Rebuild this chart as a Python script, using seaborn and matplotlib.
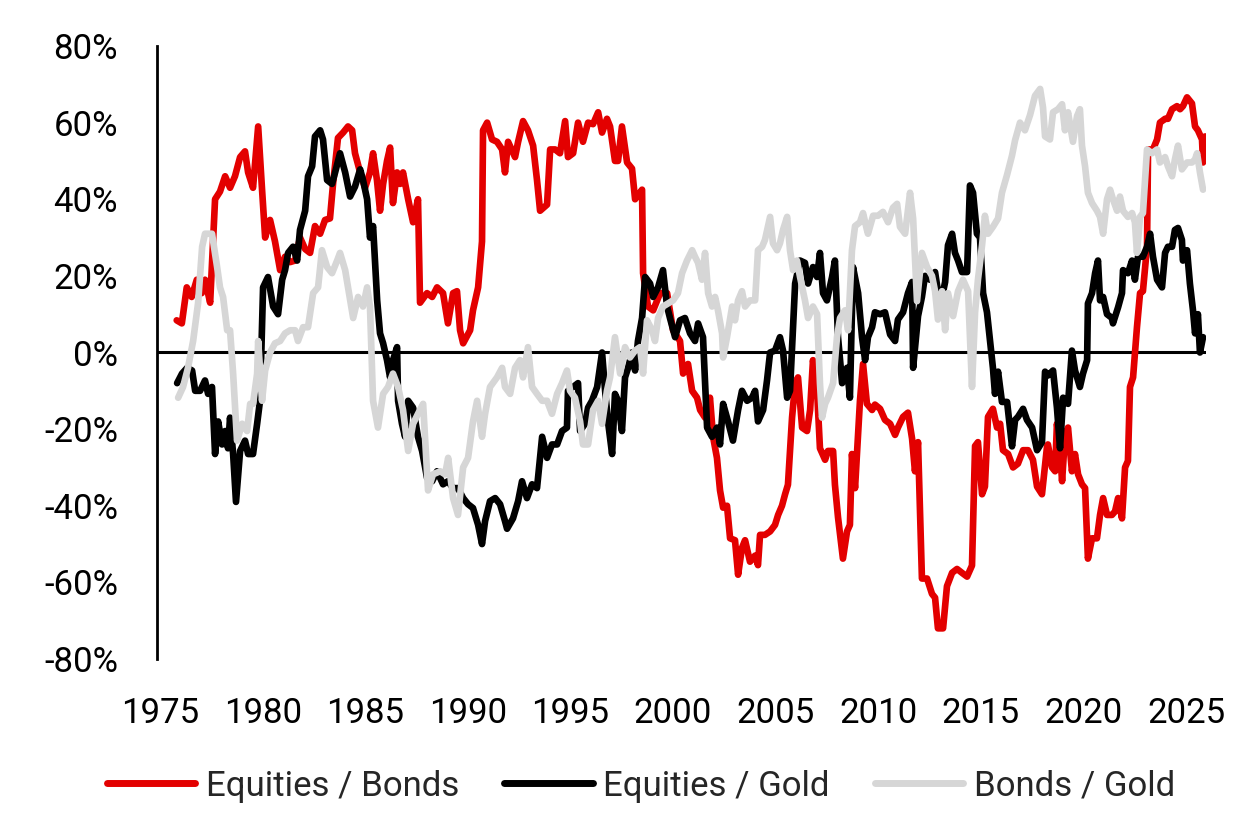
import matplotlib
matplotlib.use("Agg")
import matplotlib.pyplot as plt
import seaborn as sns
import pandas as pd
from matplotlib.lines import Line2D

# ---------------- data (rolling correlations, %) ----------------
eb_years = [1975.81, 1976.06, 1976.30, 1976.54, 1976.79, 1977.03, 1977.19, 1977.44, 1977.68, 1977.92,
            1978.17, 1978.41, 1978.65, 1978.90, 1979.14, 1979.29, 1979.53, 1979.78, 1979.97, 1980.12,
            1980.36, 1980.60, 1980.85, 1981.09, 1981.34, 1981.58, 1981.82, 1982.07, 1982.31, 1982.55,
            1982.80, 1983.04, 1983.28, 1983.43, 1983.67, 1983.92, 1984.16, 1984.36, 1984.50, 1984.75,
            1984.99, 1985.23, 1985.38, 1985.57, 1985.72, 1985.87, 1986.06, 1986.21, 1986.35, 1986.55,
            1986.70, 1986.84, 1987.09, 1987.33, 1987.57, 1987.67, 1988.01, 1988.26, 1988.50, 1988.79,
            1989.03, 1989.28, 1989.47, 1989.62, 1989.77, 1990.11, 1990.25, 1990.50, 1990.69, 1990.74,
            1990.94, 1991.18, 1991.42, 1991.67, 1991.81, 1991.96, 1992.30, 1992.45, 1992.69, 1992.93,
            1993.18, 1993.37, 1993.52, 1993.86, 1994.01, 1994.25, 1994.49, 1994.74, 1994.88, 1995.13,
            1995.37, 1995.61, 1995.86, 1996.10, 1996.35, 1996.54, 1996.78, 1996.93, 1997.17, 1997.32,
            1997.51, 1997.76, 1998.00, 1998.15, 1998.29, 1998.49, 1998.54, 1998.78, 1999.03, 1999.37,
            1999.71, 2000.00, 2000.34, 2000.49, 2000.73, 2000.93, 2001.17, 2001.32, 2001.56, 2001.80,
            2001.95, 2002.14, 2002.29, 2002.44, 2002.63, 2002.78, 2003.02, 2003.17, 2003.36, 2003.51,
            2003.75, 2004.00, 2004.14, 2004.24, 2004.48, 2004.73, 2004.97, 2005.12, 2005.31, 2005.46,
            2005.60, 2005.80, 2005.95, 2006.09, 2006.29, 2006.53, 2006.68, 2006.82, 2007.02, 2007.16,
            2007.41, 2007.55, 2007.80, 2007.89, 2008.04, 2008.28, 2008.48, 2008.62, 2008.72, 2008.87,
            2009.11, 2009.26, 2009.45, 2009.70, 2009.84, 2010.09, 2010.33, 2010.58, 2010.82, 2010.96,
            2011.21, 2011.45, 2011.65, 2011.79, 2011.94, 2012.13, 2012.38, 2012.62, 2012.77, 2012.91,
            2013.16, 2013.35, 2013.60, 2013.84, 2014.08, 2014.33, 2014.57, 2014.72, 2014.86, 2015.06,
            2015.20, 2015.35, 2015.59, 2015.79, 2015.94, 2016.08, 2016.33, 2016.57, 2016.81, 2017.06,
            2017.30, 2017.54, 2017.74, 2017.98, 2018.23, 2018.27, 2018.47, 2018.62, 2018.71, 2018.86,
            2018.96, 2019.10, 2019.25, 2019.44, 2019.59, 2019.74, 2019.93, 2020.08, 2020.22, 2020.42,
            2020.66, 2020.81, 2020.96, 2021.15, 2021.39, 2021.54, 2021.69, 2021.88, 2022.03, 2022.17,
            2022.27, 2022.42, 2022.61, 2022.76, 2022.90, 2023.10, 2023.15, 2023.39, 2023.59, 2023.73,
            2023.98, 2024.12, 2024.32, 2024.56, 2024.71, 2024.85, 2025.05, 2025.29, 2025.44, 2025.58,
            2025.78, 2025.83, 2025.93]
eb_vals = [8.4, 7.6, 17, 14.5, 19, 15.5, 19, 13, 40, 42,
           46, 43, 46, 51, 52.5, 47, 43, 59, 42.5, 30,
           34.6, 29, 21.5, 25, 23.6, 24, 30, 27, 26, 33,
           31, 34.6, 35, 44, 56, 57.4, 59, 58, 52, 47,
           43, 47, 52, 45, 37, 44, 50, 53.5, 39, 47,
           44, 47, 40, 34, 40, 13, 15.5, 14.5, 17, 15.5,
           7.6, 15.5, 16, 5.8, 2.4, 5.8, 11, 17, 29, 58,
           60, 55.6, 55, 53, 47, 55, 51, 55, 60.4, 58,
           54, 45, 37, 38.6, 53, 53, 52, 60.4, 51, 52,
           60, 55, 60, 59.6, 62.7, 57.4, 61, 59, 50, 50,
           59, 49.6, 48, 40, 41, 42.5, 20.7, 12, 11, 15.5,
           15.5, 5.8, 3, -5.5, -3, -10, -11.8, -15, -17, -11.8,
           -22, -27.5, -36, -40.5, -40, -48.5, -49, -58, -51, -49,
           -54.6, -53, -55.5, -47.6, -47.6, -46.7, -45, -42.4, -40, -37,
           -34.5, -17, -8, -6.5, -19.6, -20.5, -15, -2, -10, -25,
           -28, -25.7, -25.7, -34.5, -43, -53.8, -46.7, -45, -26.5, -35.4,
           -12.6, -3, -13.4, -15, -13.6, -14.7, -17.6, -18.6, -21.5, -19.6,
           -16.8, -15.7, -22.5, -31, -23.4, -59, -59, -63, -64, -72,
           -72, -61, -57.5, -56.5, -57.5, -58.5, -55.6, -24.4, -23.4, -37,
           -35, -16.8, -14.7, -19.6, -18.6, -25.5, -26.5, -30, -29, -25.5,
           -25.5, -28, -35, -37, -24.4, -24, -30, -31, -18.6, -25.7,
           -33.6, -22, -19.6, -31, -26.5, -31.8, -34.4, -35.4, -53.8, -48.5,
           -48.5, -42.4, -38, -42.4, -42.4, -41.5, -38, -43.3, -30, -28.3,
           -9, -6.5, 6.6, 15.5, 16, 27.6, 53, 53, 55.6, 60,
           61, 61, 63.5, 64.3, 63.5, 64.3, 66.6, 65, 59, 58,
           55.6, 49.6, 56.4]

eg_years = [1975.83, 1976.07, 1976.32, 1976.56, 1976.71, 1976.95, 1977.19, 1977.34, 1977.53, 1977.68,
            1977.83, 1978.02, 1978.17, 1978.31, 1978.41, 1978.56, 1978.70, 1978.90, 1979.14, 1979.29,
            1979.53, 1979.73, 1979.87, 1980.02, 1980.26, 1980.51, 1980.75, 1980.95, 1981.09, 1981.24,
            1981.48, 1981.68, 1981.82, 1982.07, 1982.21, 1982.41, 1982.55, 1982.80, 1982.94, 1983.14,
            1983.38, 1983.53, 1983.77, 1984.02, 1984.26, 1984.50, 1984.75, 1984.89, 1985.09, 1985.23,
            1985.38, 1985.58, 1985.72, 1985.87, 1986.06, 1986.21, 1986.35, 1986.55, 1986.60, 1986.79,
            1986.94, 1987.09, 1987.33, 1987.57, 1987.77, 1988.01, 1988.26, 1988.50, 1988.79, 1989.03,
            1989.28, 1989.52, 1989.77, 1990.01, 1990.25, 1990.50, 1990.69, 1990.84, 1991.08, 1991.33,
            1991.57, 1991.81, 1991.91, 1992.20, 1992.45, 1992.64, 1992.88, 1993.13, 1993.37, 1993.62,
            1993.86, 1994.10, 1994.35, 1994.59, 1994.83, 1994.88, 1995.13, 1995.37, 1995.47, 1995.71,
            1995.86, 1996.05, 1996.30, 1996.54, 1996.69, 1996.83, 1997.03, 1997.17, 1997.32, 1997.51,
            1997.66, 1997.81, 1998.00, 1998.15, 1998.29, 1998.49, 1998.64, 1998.88, 1999.03, 1999.27,
            1999.51, 1999.71, 1999.85, 2000.10, 2000.34, 2000.58, 2000.83, 2001.07, 2001.22, 2001.46,
            2001.66, 2001.90, 2002.14, 2002.29, 2002.44, 2002.68, 2002.92, 2003.17, 2003.36, 2003.61,
            2003.85, 2004.00, 2004.14, 2004.39, 2004.58, 2004.73, 2004.97, 2005.21, 2005.36, 2005.56,
            2005.70, 2005.95, 2006.19, 2006.43, 2006.58, 2006.82, 2007.02, 2007.16, 2007.31, 2007.50,
            2007.75, 2007.89, 2008.04, 2008.24, 2008.48, 2008.62, 2008.77, 2009.02, 2009.21, 2009.36,
            2009.50, 2009.70, 2009.84, 2010.09, 2010.33, 2010.58, 2010.82, 2010.96, 2011.21, 2011.45,
            2011.65, 2011.70, 2011.94, 2012.13, 2012.28, 2012.52, 2012.77, 2012.91, 2013.11, 2013.26,
            2013.40, 2013.60, 2013.74, 2013.89, 2014.08, 2014.33, 2014.47, 2014.62, 2014.81, 2014.96,
            2015.11, 2015.30, 2015.45, 2015.59, 2015.69, 2015.84, 2016.03, 2016.28, 2016.52, 2016.67,
            2016.81, 2017.06, 2017.25, 2017.50, 2017.74, 2017.98, 2018.13, 2018.27, 2018.52, 2018.71,
            2018.86, 2019.01, 2019.25, 2019.44, 2019.59, 2019.83, 2019.98, 2020.18, 2020.22, 2020.42,
            2020.57, 2020.71, 2020.81, 2020.96, 2021.15, 2021.39, 2021.44, 2021.69, 2021.88, 2021.93,
            2022.17, 2022.37, 2022.51, 2022.66, 2022.90, 2023.10, 2023.25, 2023.39, 2023.59, 2023.83,
            2023.98, 2024.12, 2024.32, 2024.46, 2024.61, 2024.80, 2024.85, 2025.05, 2025.19, 2025.34,
            2025.44, 2025.58, 2025.68, 2025.83]
eg_vals = [-8, -5.5, -4, -4.7, -10, -10, -7.3, -10.8, -9, -26.5,
           -18, -24, -20.5, -25, -17, -26.5, -39, -25.7, -23, -26.5,
           -26.5, -18.6, -12.6, 17, 19.7, 12, 10, 19, 21.5, 26,
           27.6, 24, 32, 37, 46, 48.6, 56.4, 58, 55.6, 45,
           44, 47, 52, 47, 40.7, 43.3, 47.8, 45, 40, 30,
           33, 13.6, 5, 2.4, -2, -6.5, -2, 1.4, -12.6, -18.6,
           -22, -12.6, -14.4, -22, -25.7, -32.7, -33.6, -31, -34.4, -33.6,
           -35.4, -35.4, -38, -39.6, -40.6, -45, -50, -44, -38.8, -38,
           -39.6, -44, -46, -43.3, -38.8, -33.6, -38, -34.4, -35.4, -22,
           -27.5, -24, -24, -20.5, -19.6, -10, -9, -8, -20.5, -18.6,
           -14.4, -12.6, -9, 0, -10, -18, -26.5, -10.8, -12.6, -20.5,
           -6.5, -4, 0, -4.7, 3, 9, 19.7, 18, 14.5, 17,
           21.5, 12, 9, 4, 8.4, 9, 5, 3, 7.6, 4,
           -19.6, -22, -19.6, -24, -13.4, -18, -23, -15, -10, -12.6,
           -11.8, -10, -18, -15, -7.3, 0, 0.5, 4, 0.5, -11.8,
           -10, 18, 24, 23.4, 18, 22.3, 19.7, 26, 15.5, 13.6,
           19.7, 24, 4, -8, -4, -11.8, 22.3, 15.5, 4, -2,
           4, 6.6, 10.5, 10, 10.5, 4.7, 3, 8.6, 10.5, 15.5,
           18.4, -4, 9.5, 14.5, 20, 19, 21, 16, 14.5, 18.4,
           28, 31, 26, 24, 21, 21, 43.6, 41.7, 31, 30,
           15.5, 10.5, 3, -4, -10.8, -5, -12.9, -12.9, -24.5, -17.6,
           -16.8, -14.7, -17.6, -19.6, -25.5, -23.4, -5, -6, -4.7, -14.4,
           -25, -11.8, -13.4, 0.5, -4.7, -9, -5.5, -2, 12.8, 15.5,
           20.7, 24, 13.6, 14.5, 10, 9, 7.6, 11.8, 15.5, 21.5,
           20.7, 24, 19, 25, 25, 27.6, 31, 25, 19, 17,
           26, 27.6, 27.6, 32, 32.5, 29.4, 24, 26.7, 18, 11,
           5, 10, 0, 4]

bg_years = [1975.88, 1976.12, 1976.36, 1976.61, 1976.85, 1977.05, 1977.19, 1977.53, 1977.78, 1977.92,
            1978.07, 1978.27, 1978.41, 1978.56, 1978.75, 1979.00, 1979.24, 1979.39, 1979.53, 1979.73,
            1979.78, 1979.97, 1980.12, 1980.36, 1980.60, 1980.85, 1981.09, 1981.34, 1981.58, 1981.72,
            1981.97, 1982.21, 1982.46, 1982.70, 1982.89, 1983.14, 1983.38, 1983.63, 1983.77, 1984.02,
            1984.16, 1984.41, 1984.65, 1984.89, 1985.09, 1985.23, 1985.38, 1985.62, 1985.87, 1986.11,
            1986.35, 1986.60, 1986.84, 1987.09, 1987.33, 1987.57, 1987.82, 1988.06, 1988.30, 1988.65,
            1988.89, 1989.04, 1989.28, 1989.52, 1989.77, 1990.01, 1990.25, 1990.45, 1990.69, 1990.84,
            1991.08, 1991.42, 1991.67, 1991.81, 1992.06, 1992.30, 1992.54, 1992.69, 1992.93, 1993.13,
            1993.37, 1993.62, 1993.86, 1994.10, 1994.35, 1994.59, 1994.83, 1994.98, 1995.22, 1995.47,
            1995.61, 1995.86, 1996.10, 1996.35, 1996.54, 1996.78, 1996.93, 1997.17, 1997.42, 1997.66,
            1997.90, 1998.15, 1998.39, 1998.54, 1998.73, 1998.98, 1999.12, 1999.27, 1999.51, 1999.76,
            2000.00, 2000.24, 2000.44, 2000.68, 2000.93, 2001.07, 2001.22, 2001.41, 2001.56, 2001.71,
            2001.90, 2002.05, 2002.19, 2002.39, 2002.44, 2002.63, 2002.88, 2003.02, 2003.17, 2003.36,
            2003.51, 2003.75, 2004.00, 2004.14, 2004.34, 2004.48, 2004.73, 2004.87, 2005.07, 2005.21,
            2005.36, 2005.56, 2005.70, 2005.85, 2006.04, 2006.19, 2006.43, 2006.58, 2006.82, 2007.02,
            2007.16, 2007.26, 2007.41, 2007.55, 2007.80, 2007.99, 2008.14, 2008.38, 2008.53, 2008.72,
            2008.87, 2009.11, 2009.26, 2009.45, 2009.50, 2009.75, 2009.99, 2010.23, 2010.48, 2010.72,
            2010.92, 2011.06, 2011.31, 2011.55, 2011.70, 2011.89, 2012.13, 2012.38, 2012.62, 2012.77,
            2012.91, 2013.11, 2013.26, 2013.40, 2013.65, 2013.89, 2014.13, 2014.38, 2014.57, 2014.72,
            2014.86, 2015.06, 2015.20, 2015.35, 2015.59, 2015.84, 2016.03, 2016.28, 2016.52, 2016.67,
            2016.91, 2017.15, 2017.40, 2017.64, 2017.89, 2018.03, 2018.13, 2018.37, 2018.52, 2018.76,
            2018.96, 2019.10, 2019.25, 2019.49, 2019.69, 2019.83, 2019.93, 2020.08, 2020.22, 2020.42,
            2020.66, 2020.81, 2020.96, 2021.15, 2021.30, 2021.44, 2021.64, 2021.78, 2021.93, 2022.17,
            2022.37, 2022.51, 2022.61, 2022.76, 2022.90, 2023.10, 2023.34, 2023.59, 2023.73, 2023.98,
            2024.12, 2024.32, 2024.46, 2024.61, 2024.80, 2025.05, 2025.29, 2025.44, 2025.54, 2025.68,
            2025.83]
bg_vals = [-11.8, -9, -4, 3, 12.8, 27.6, 31, 31, 22.3, 17,
           14.5, 5.8, 5.8, -5.5, -23, -18.6, -20.5, -13.4, -13.4, -5.5,
           3, -12.6, -4.7, 0, 2.4, 3, 5, 5.8, 5.8, 3,
           6.6, 6.6, 15.5, 17, 26.7, 22.3, 20.7, 24, 26, 21.5,
           17, 9, 14.5, 12, 17, 12, -12.6, -19.6, -10.8, -9,
           -5.5, -9, -15, -25.7, -18.6, -16, -13.4, -36, -31.8, -31,
           -31.8, -27.5, -38, -42.4, -30, -27.5, -18, -12.6, -22, -16,
           -9, -6.5, -4, -9, -10.8, -4, -2, -6.5, 1.4, -9,
           -10.8, -12.6, -12.6, -16, -10.8, -8, -4.7, -10, -11.8, -18,
           -24, -24, -15, -12.6, -18.6, -10, -6.5, 4, -5.5, 1.4,
           -1.3, 0.5, 1.4, -5.5, 8.4, 5.8, 3, 9, 12, 12.8,
           13.6, 15.5, 20.7, 24, 26.7, 25, 23.4, 19, 26, 15.5,
           12, 14.5, 11, 5, -1.3, 4, 12, 8.4, 13.6, 16,
           12, 13.6, 13.6, 26.7, 27.6, 29.4, 35.4, 28.5, 26.7, 28.5,
           32, 35.4, 26.7, 21.5, 24, 19.7, 13.6, 9, 12, 10,
           -8, -17, -13.4, -11.8, -8, 4, 9, 11, 5.8, 26.7,
           33, 34, 36.4, 32, 31, 35.7, 35.7, 36.7, 34, 37.8,
           38.8, 32.8, 31, 41.7, 35, 13.4, 26, 22.3, 20, 16,
           8.6, 16, 5.8, 15.5, 9.5, 16, 19, 16, -9, 10.5,
           19, 28, 35.7, 31, 32.8, 35, 41.7, 46.4, 51.4, 55.4,
           60, 58, 62, 67, 68.8, 64, 56.4, 55.6, 62.7, 63.5,
           64.8, 58, 62.7, 55, 61.7, 63.5, 54, 48.6, 41.7, 39,
           37, 35.4, 31, 40, 42.5, 40, 37, 40.7, 37, 35.4,
           36.4, 34, 26, 35.4, 36.4, 53, 52, 53, 49.6, 51,
           48.6, 46, 50.4, 54, 47.8, 49.6, 49.6, 50.4, 52, 47,
           42.5]

series_names = ["Equities / Bonds", "Equities / Gold", "Bonds / Gold"]
series_colors = ["#E30000", "#000000", "#D6D6D6"]
y_ticks = [-80, -60, -40, -20, 0, 20, 40, 60, 80]
x_ticks = [1975, 1980, 1985, 1990, 1995, 2000, 2005, 2010, 2015, 2020, 2025]

df = pd.concat([
    pd.DataFrame({"year": eb_years, "corr": eb_vals, "series": series_names[0]}),
    pd.DataFrame({"year": eg_years, "corr": eg_vals, "series": series_names[1]}),
    pd.DataFrame({"year": bg_years, "corr": bg_vals, "series": series_names[2]}),
], ignore_index=True)

# ---------------- plot ----------------
sns.set_style("white")
plt.rcParams["font.family"] = ["Roboto", "DejaVu Sans"]

fig = plt.figure(figsize=(12.59, 8.21), dpi=100)
ax = fig.add_axes([157 / 1259, 1 - 659 / 821, (1205.5 - 157) / 1259, (659 - 46) / 821])

ax.axhline(0, color="black", lw=2.2, zorder=1)

sns.lineplot(data=df, x="year", y="corr", hue="series", hue_order=series_names,
             palette=dict(zip(series_names, series_colors)), estimator=None,
             lw=4.8, ax=ax, legend=False, zorder=3)

ax.set_xlim(1974.85, 2025.95)
ax.set_ylim(-80, 80)
ax.set_xticks(x_ticks)
ax.set_xticklabels([str(t) for t in x_ticks])
ax.set_yticks(y_ticks)
ax.set_yticklabels([f"{t}%" for t in y_ticks])
ax.tick_params(axis="both", length=0, labelsize=25, colors="black")
ax.tick_params(axis="y", pad=28)
ax.tick_params(axis="x", pad=27)
ax.set_xlabel("")
ax.set_ylabel("")

for s in ["top", "right", "bottom"]:
    ax.spines[s].set_visible(False)
ax.spines["left"].set_color("black")
ax.spines["left"].set_linewidth(2.0)
ax.grid(False)

handles = [Line2D([0], [0], color=c, lw=5.0, solid_capstyle="round") for c in series_colors]
fig.legend(handles, series_names, loc="center", bbox_to_anchor=(0.509, 1 - 786 / 821),
           ncol=3, frameon=False, fontsize=25, handlelength=2.55, handletextpad=0.3,
           columnspacing=1.3)

fig.savefig("out.png", dpi=100, facecolor="white")
